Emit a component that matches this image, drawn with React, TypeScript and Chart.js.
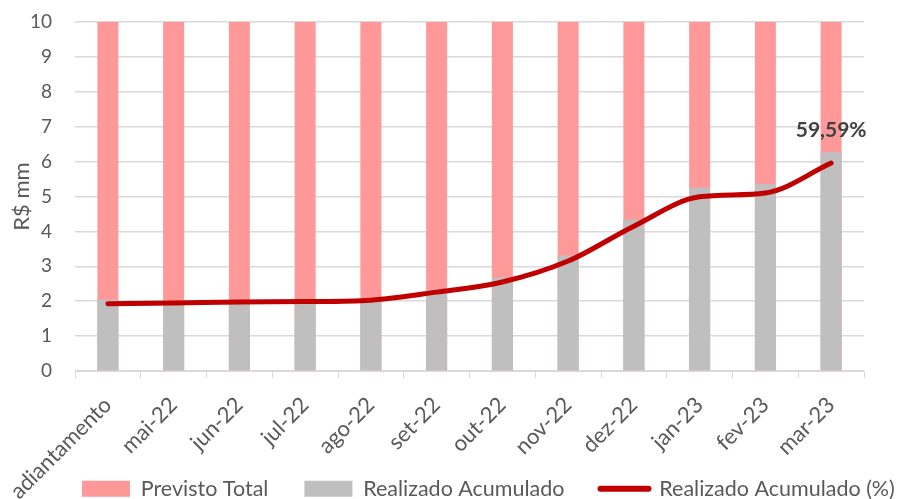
import React, { useEffect, useRef } from "react";
import { Chart, registerables } from "chart.js";

Chart.register(...registerables);

const categories = [
  "adiantamento", "mai-22", "jun-22", "jul-22", "ago-22", "set-22",
  "out-22", "nov-22", "dez-22", "jan-23", "fev-23", "mar-23",
];
const previstoTotal = [10, 10, 10, 10, 10, 10, 10, 10, 10, 10, 10, 10];
const realizadoAcumulado = [2.04, 1.93, 1.97, 1.98, 2.03, 2.33, 2.68, 3.31, 4.34, 5.25, 5.36, 6.27];
const realizadoPct = [19.3, 19.5, 19.8, 19.9, 20.3, 22.6, 25.5, 31.5, 41.5, 49.9, 51.0, 59.59];
const yTicks = [0, 1, 2, 3, 4, 5, 6, 7, 8, 9, 10];

const FONT = "Lato, 'Noto Sans', sans-serif";
const TXT = "#595959";
const W = 906;
const H = 499;
const PLOT_TOP = 22;
const PLOT_BOTTOM = 371;

const lastLabelPlugin = {
  id: "lastLabel",
  afterDatasetsDraw(chart: any) {
    const meta = chart.getDatasetMeta(2);
    const i = realizadoPct.length - 1;
    const pt = meta.data[i];
    if (!pt) return;
    const ctx = chart.ctx;
    ctx.save();
    ctx.font = `bold 21px ${FONT}`;
    ctx.fillStyle = "#404040";
    ctx.textAlign = "center";
    ctx.textBaseline = "middle";
    ctx.fillText(realizadoPct[i].toFixed(2).replace(".", ",") + "%", pt.x, pt.y - 33);
    ctx.restore();
  },
};

const legendPad = 36;
const legendFont = 21.5;
const legendStartX = 82;
const legendTextTop = 478;
const legendOverlayPlugin = {
  id: "legendOverlay",
  beforeLayout(chart: any) {
    const lg = chart.legend;
    if (lg && !lg.__patched) {
      const orig = lg.fit.bind(lg);
      lg.fit = function () {
        this.maxWidth = W * 2;
        orig();
        this.height = 0;
      };
      lg.__patched = true;
    }
  },
  beforeDraw(chart: any) {
    const lg = chart.legend;
    if (!lg || !lg.lineWidths) return;
    lg.top = legendTextTop - legendPad;
    lg.bottom = H;
    lg.height = H - lg.top;
    lg.right = W * 2;
    lg.left = 2 * legendStartX - legendPad - lg.right + lg.lineWidths[0];
    lg.width = lg.right - lg.left;
  },
};

export default function App() {
  const ref = useRef<HTMLCanvasElement | null>(null);
  useEffect(() => {
    document.body.style.margin = "0";
    const chart = new Chart(ref.current as HTMLCanvasElement, {
      data: {
        labels: categories,
        datasets: [
          {
            type: "bar",
            label: "Previsto Total",
            data: previstoTotal,
            backgroundColor: "#FF9999",
            grouped: false,
            barPercentage: 0.32,
            categoryPercentage: 1,
            order: 2,
            yAxisID: "y",
          } as any,
          {
            type: "bar",
            label: "Realizado Acumulado",
            data: realizadoAcumulado,
            backgroundColor: "#BFBFBF",
            grouped: false,
            barPercentage: 0.32,
            categoryPercentage: 1,
            order: 1,
            yAxisID: "y",
          } as any,
          {
            type: "line",
            label: "Realizado Acumulado (%)",
            data: realizadoPct,
            borderColor: "#C00000",
            backgroundColor: "#C00000",
            borderWidth: 5,
            pointRadius: 0,
            cubicInterpolationMode: "monotone",
            borderCapStyle: "round",
            borderJoinStyle: "round",
            order: 0,
            yAxisID: "y1",
          } as any,
        ],
      },
      options: {
        animation: false,
        responsive: true,
        maintainAspectRatio: false,
        layout: { padding: { top: PLOT_TOP, right: 42, left: 0, bottom: 0 } },
        plugins: {
          tooltip: { enabled: false },
          title: { display: false },
          legend: {
            position: "bottom",
            labels: {
              usePointStyle: true,
              pointStyleWidth: 48,
              boxWidth: 48,
              boxHeight: 16,
              padding: legendPad,
              color: TXT,
              font: { family: FONT, size: legendFont },
              sort: (a: any, b: any) => a.datasetIndex - b.datasetIndex,
              generateLabels: (c: any) => {
                const items = (Chart.defaults.plugins.legend.labels as any).generateLabels(c);
                return items.map((it: any) => {
                  const ds = c.data.datasets[it.datasetIndex];
                  if (ds.type === "line") {
                    it.pointStyle = "line";
                    it.lineWidth = 6;
                    it.strokeStyle = "#C00000";
                    it.lineCap = "round";
                  } else {
                    it.pointStyle = "rect";
                    it.lineWidth = 0;
                    it.fillStyle = ds.backgroundColor;
                  }
                  return it;
                });
              },
            },
          },
        },
        scales: {
          x: {
            grid: {
              offset: true,
              drawOnChartArea: false,
              drawTicks: true,
              tickLength: 7,
              color: "#D9D9D9",
            },
            border: { color: "#D9D9D9", width: 1 },
            ticks: {
              autoSkip: false,
              minRotation: 45,
              maxRotation: 45,
              color: TXT,
              font: { family: FONT, size: 22 },
              padding: 14,
            },
            afterFit: (s: any) => {
              s.height = H - PLOT_BOTTOM;
              s.paddingLeft = 0;
              s.paddingRight = 0;
            },
          },
          y: {
            min: 0,
            max: 10,
            afterBuildTicks: (s: any) => {
              s.ticks = yTicks.map((v) => ({ value: v }));
            },
            grid: { color: "#D9D9D9", lineWidth: 1.5, drawTicks: false },
            border: { display: false },
            ticks: {
              color: TXT,
              font: { family: FONT, size: 19 },
              padding: 23,
            },
            title: {
              display: true,
              text: "R$ mm",
              color: TXT,
              font: { family: FONT, size: 22 },
              padding: { top: 9, bottom: 0 },
            },
            afterFit: (s: any) => {
              s.width = 75;
              s.paddingTop = 0;
              s.paddingBottom = 0;
            },
          },
          y1: {
            display: false,
            min: 0,
            max: 100,
          },
        },
      },
      plugins: [lastLabelPlugin, legendOverlayPlugin],
    } as any);
    return () => chart.destroy();
  }, []);
  return (
    <div style={{ position: "absolute", left: 0, top: 0, width: W, height: H }}>
      <canvas ref={ref} />
    </div>
  );
}
